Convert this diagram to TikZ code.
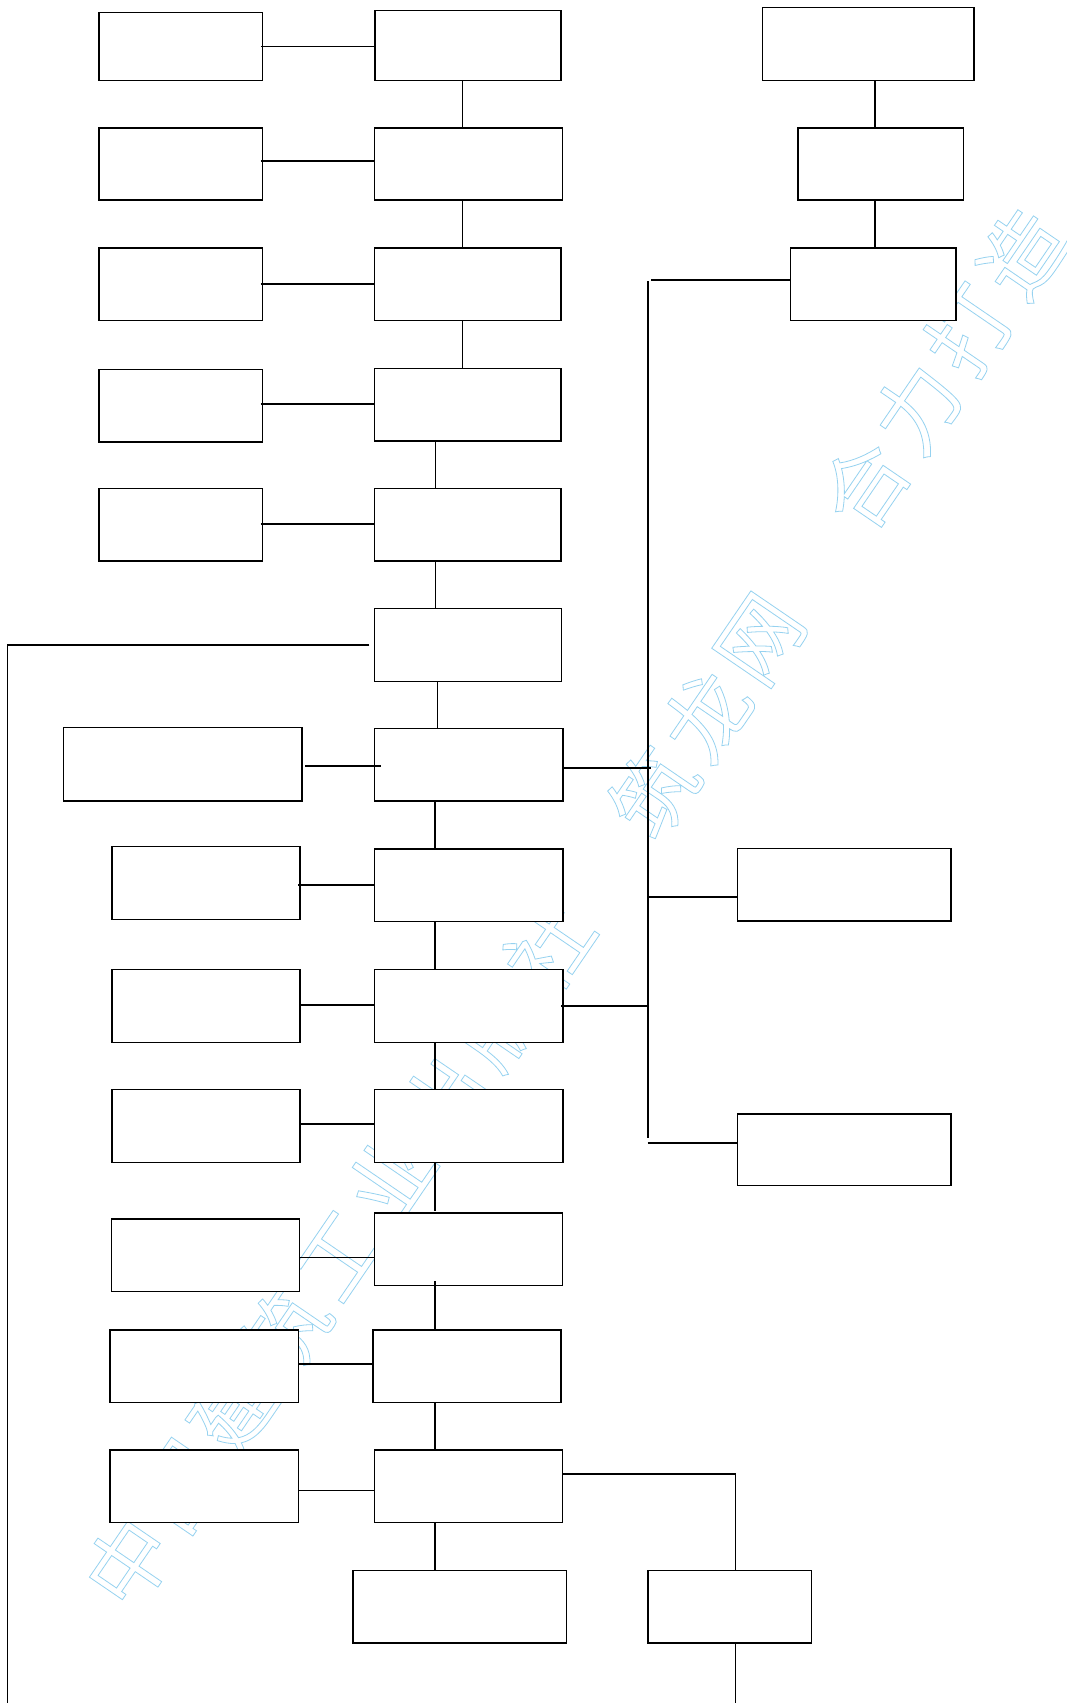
\documentclass[tikz,border=0pt]{standalone}
\usepackage{fontspec}
\newfontfamily\wmcjk[LetterSpace=11]{Noto Sans CJK SC}
\definecolor{wmblue}{RGB}{150,210,240}
\tikzset{
  box/.style={draw=black, fill=white, line width=1.5pt, inner sep=0pt, rectangle},
  conn/.style={line width=1.5pt, draw=black},
  wmtext/.style={text=wmblue, font=\wmcjk\fontsize{84}{84}\selectfont, rotate=55.67, inner sep=0pt}
}
\newcommand\mkbox[5]{%
  \pgfmathsetmacro\mkbw{#4-#2}\pgfmathsetmacro\mkbh{#5-#3}%
  \pgfmathsetmacro\mkcx{(#2+#4)/2}\pgfmathsetmacro\mkcy{(#3+#5)/2}%
  \node[box, minimum width=\mkbw pt, minimum height=\mkbh pt] (#1) at (\mkcx,\mkcy) {};}
\newcommand\wmon{\special{pdf:literal direct 1 Tr 0.8 w}}
\newcommand\wmoff{\special{pdf:literal direct 0 Tr}}
\begin{document}
\begin{tikzpicture}[x=1pt,y=-1pt]
\useasboundingbox (0,0) rectangle (1067,1703);
\fill[white] (0,0) rectangle (1067,1703);
% watermark
\node[wmtext] (wm) at (575,908) {\wmon 中国建筑工业出版社　筑龙网　合力打造\wmoff};
% boxes
\mkbox{M1}{375}{10.7}{561}{80.4}
\mkbox{L1}{99}{12.6}{262.5}{80.4}
\mkbox{M2}{374.6}{127.8}{562.5}{200.1}
\mkbox{L2}{99}{127.8}{262.5}{200.1}
\mkbox{M3}{374.6}{248}{561}{320.3}
\mkbox{L3}{99}{248}{262.5}{320.3}
\mkbox{M4}{374.6}{368.5}{561}{440.8}
\mkbox{L4}{99}{369.3}{262.5}{442}
\mkbox{M5}{374.6}{488.7}{561}{561}
\mkbox{L5}{99}{488.7}{262.5}{561}
\mkbox{M6}{374.4}{608.3}{561.4}{681.4}
\mkbox{M7}{374.4}{728.5}{563}{801.2}
\mkbox{L7}{63.4}{727.3}{301.8}{800.8}
\mkbox{M8}{374.4}{849}{563}{921.7}
\mkbox{L8}{112}{846.7}{300.2}{919.5}
\mkbox{M9}{374.4}{969.6}{563}{1042.3}
\mkbox{L9}{112}{969.6}{300.2}{1042.3}
\mkbox{M10}{374.4}{1089.4}{563}{1162.5}
\mkbox{L10}{112}{1089.4}{300.2}{1162.5}
\mkbox{M11}{374.5}{1212.8}{562.6}{1285.4}
\mkbox{L11}{111.7}{1218.8}{299.7}{1291.4}
\mkbox{M12}{372.9}{1330.2}{561}{1402.6}
\mkbox{L12}{110}{1329.9}{298.6}{1402.6}
\mkbox{M13}{374.5}{1450.2}{562.6}{1522.5}
\mkbox{L13}{110}{1450.2}{298.6}{1522.5}
\mkbox{B1}{352.8}{1570.5}{566.4}{1643.1}
\mkbox{B2}{648.2}{1570.5}{811.4}{1643.1}
\mkbox{R1}{762.3}{7.7}{974}{80.4}
\mkbox{R2}{798}{127.8}{963.3}{200.1}
\mkbox{R3}{790.7}{248}{956}{320.3}
\mkbox{RB1}{737.3}{848.7}{951}{921.2}
\mkbox{RB2}{737.3}{1114}{951}{1185.7}
% helper coordinates
\coordinate (xa) at (462.3,0);
\coordinate (xb) at (435.7,0);
\coordinate (xc) at (437.4,0);
\coordinate (xd) at (435.2,0);
\coordinate (xr) at (875,0);
\coordinate (v1011) at (435.2,1210.7);
\coordinate (v1112) at (435.2,1281.2);
\coordinate (mr) at (735.5,1473.8);
\coordinate (bb) at (735.5,1703);
\coordinate (lb) at (7.5,1703);
\coordinate (r3l) at (651,280.1);
\coordinate (t1) at (648,281.3);
\coordinate (t2) at (648,1137.6);
\coordinate (m7r) at (650.7,767.8);
\coordinate (rb1l) at (648,897.2);
\coordinate (m9r) at (648,1005.8);
\coordinate (rb2l) at (647.7,1143);
% left-to-main connectors
\draw[conn] ([xshift=-2.3pt]L1.east) -- ++(114.4,0);
\draw[conn] ([xshift=-2.3pt,yshift=3pt]L2.east) -- ++(114.4,0);
\draw[conn] ([xshift=-2.3pt]L3.east) -- ++(114.4,0);
\draw[conn] ([xshift=-2.3pt,yshift=1.8pt]L4.east) -- ++(114.4,0);
\draw[conn] ([xshift=-2.3pt,yshift=1pt]L5.east) -- ++(114.4,0);
\draw[conn] ([xshift=2.9pt,yshift=-1.7pt]L7.east) -- ++(75.9,0);
\draw[conn] ([xshift=-2.9pt,yshift=-1.7pt]L8.east) -- ++(77.1,0);
\draw[conn] ([yshift=1.2pt]L9.east) -- ++(74.2,0);
\draw[conn] ([yshift=2.2pt]L10.east) -- ++(74.2,0);
\draw[conn] ([yshift=-2.4pt]L11.east) -- ++(74.8,0);
\draw[conn] ([yshift=2.4pt]L12.east) -- ++(74.3,0);
\draw[conn] ([yshift=-4.1pt]L13.east) -- ++(75.9,0);
% main column verticals
\draw[conn] (M1.south -| xa) -- (M2.north -| xa);
\draw[conn] (M2.south -| xa) -- (M3.north -| xa);
\draw[conn] (M3.south -| xa) -- (M4.north -| xa);
\draw[conn] (M4.south -| xb) -- (M5.north -| xb);
\draw[conn] (M5.south -| xb) -- (M6.north -| xb);
\draw[conn] (M6.south -| xc) -- (M7.north -| xc);
\draw[conn] (M7.south -| xd) -- (M8.north -| xd);
\draw[conn] (M8.south -| xd) -- (M9.north -| xd);
\draw[conn] (M9.south -| xd) -- (M10.north -| xd);
\draw[conn] (M10.south -| xd) -- (v1011);
\draw[conn] (v1112) -- (M12.north -| xd);
\draw[conn] (M12.south -| xd) -- (M13.north -| xd);
\draw[conn] (M13.south -| xd) -- (B1.north -| xd);
\draw[conn] (M13.east |- mr) -- (mr) -- (B2.north -| mr);
\draw[conn] (B2.south -| bb) -- (bb);
% long left line
\draw[conn] ([xshift=-4.4pt]M6.west) -| (lb);
% right column
\draw[conn] (R1.south -| xr) -- (R2.north -| xr);
\draw[conn] (R2.south -| xr) -- (R3.north -| xr);
\draw[conn] (R3.west |- r3l) -- (r3l);
\draw[conn] (t1) -- (t2);
\draw[conn] (M7.east |- m7r) -- (m7r);
\draw[conn] (rb1l) -- (RB1.west |- rb1l);
\draw[conn] ([xshift=-2.7pt]M9.east |- m9r) -- (m9r);
\draw[conn] (rb2l) -- (RB2.west |- rb2l);
\end{tikzpicture}
\end{document}
